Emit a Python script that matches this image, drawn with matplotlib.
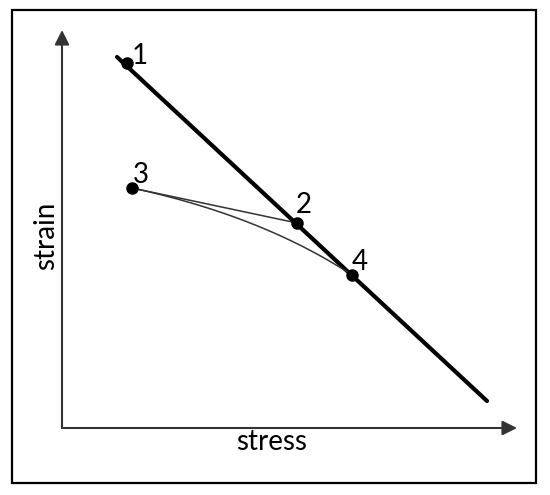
import numpy as np
import matplotlib
matplotlib.use("Agg")
import matplotlib.pyplot as plt
from matplotlib.patches import Rectangle

# schematic values (stress right, strain up), origin at the axes corner
line_stress = [55, 425]
line_strain = [371, 27]

point_names = ["1", "2", "3", "4"]
point_stress = [65, 235, 70, 290]
point_strain = [365, 205, 240, 153]

# control point of the curved path 3 -> 4
ctrl_stress = 200
ctrl_strain = 212

plt.rcParams['font.family'] = ['Lato', 'DejaVu Sans']

fig = plt.figure(figsize=(5.5, 4.95), dpi=100)
ax = fig.add_axes([0, 0, 1, 1])
ax.set_xlim(-62, 488)
ax.set_ylim(-67, 428)
ax.axis('off')

# frame
ax.add_patch(Rectangle((-50, -55), 524, 473, fill=False, lw=1.6, ec='black'))

# axes arrows
ax.annotate('', xy=(0, 398), xytext=(0, 0),
            arrowprops=dict(arrowstyle='-|>', lw=1.5, color='#333333',
                            mutation_scale=22, shrinkA=0, shrinkB=0))
ax.annotate('', xy=(455, 0), xytext=(0, 0),
            arrowprops=dict(arrowstyle='-|>', lw=1.5, color='#333333',
                            mutation_scale=22, shrinkA=0, shrinkB=0))
ax.text(210, -14, 'stress', fontsize=20, ha='center', va='center')
ax.text(-16, 192, 'strain', fontsize=20, ha='center', va='center', rotation=90)

# thick line
ax.plot(line_stress, line_strain, color='black', lw=3, solid_capstyle='round')

# thin straight path 3 -> 2
ax.plot([point_stress[2], point_stress[1]], [point_strain[2], point_strain[1]],
        color='#333333', lw=1.1)

# curved path 3 -> 4
t = np.linspace(0, 1, 60)
cx = (1-t)**2*point_stress[2] + 2*(1-t)*t*ctrl_stress + t**2*point_stress[3]
cy = (1-t)**2*point_strain[2] + 2*(1-t)*t*ctrl_strain + t**2*point_strain[3]
ax.plot(cx, cy, color='#333333', lw=1.1)

ax.plot(point_stress, point_strain, 'o', color='black', ms=8)
offsets = [(13, 7), (7, 18), (9, 13), (8, 13)]
for name, x, y, (dx, dy) in zip(point_names, point_stress, point_strain, offsets):
    ax.text(x+dx, y+dy, name, fontsize=20, ha='center', va='center')

fig.savefig('out.png', dpi=100)
